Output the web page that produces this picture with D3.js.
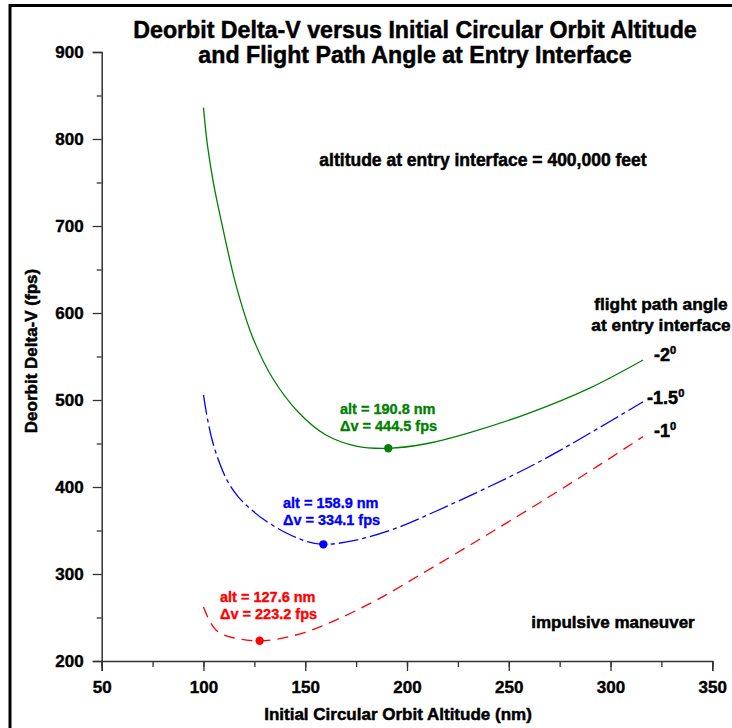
<!DOCTYPE html>
<html><head><meta charset="utf-8">
<script src="https://cdn.jsdelivr.net/npm/d3@7"></script>
<style>
body{margin:0;background:#fff;}
text{font-family:"Liberation Sans",Arial,Helvetica,sans-serif;font-weight:bold;}
</style></head>
<body><svg id="c" width="732" height="728"></svg>
<script>
// ---- data ----
const altGreen = [100,102,105,109,116,124,134,147,160,175,190.8,210,230,260,290,316];
const dvGreen  = [836,792,748,703,632,573,525,485,460,447,444.5,450,462,485,514,546];
const altBlue  = [100,102,104.5,108,112,117,123,130,140,150,158.9,175,195,215,240,265,290,316];
const dvBlue   = [506,478,452,427,406,389,375,362,348,338,334.1,339,353,373,400,429,462,498];
const altRed   = [100,103,106,110,115,121,127.6,137,150,165,185,210,240,270,295,316];
const dvRed    = [262,246,236,230,226.5,224,223.2,225.5,233,247,270,304,346,389,426,458];
const minima = [
  {alt:190.8, dv:444.5, color:"green"},
  {alt:158.9, dv:334.1, color:"blue"},
  {alt:127.6, dv:223.2, color:"red"}
];
const xTicks = [50,100,150,200,250,300,350];
const yTicks = [200,300,400,500,600,700,800,900];
const angleLabels = ["-2","-1.5","-1"];

const svg = d3.select("#c");
const x = d3.scaleLinear().domain([50,350]).range([101.7,712.3]);
const y = d3.scaleLinear().domain([200,900]).range([661,52]);

// outer frame (top and left)
svg.append("line").attr("x1",9).attr("x2",732).attr("y1",5.5).attr("y2",5.5).attr("stroke","#000").attr("stroke-width",3);
svg.append("line").attr("x1",10).attr("x2",10).attr("y1",4).attr("y2",728).attr("stroke","#000").attr("stroke-width",3);

// axes
const axCol = "#333";
const styleLabels = sel => sel.attr("font-size",17).attr("fill","#000")
  .attr("font-family","Liberation Sans").attr("font-weight","bold")
  .attr("stroke","#000").attr("stroke-width",0.4);
const gx = svg.append("g").attr("transform",`translate(0,${y(200)})`);
gx.call(d3.axisBottom(x).tickValues(d3.range(50,351,25)).tickSize(6).tickFormat(""));
gx.selectAll(".tick line").attr("stroke",axCol).attr("stroke-width",1.3);
const gx2 = svg.append("g").attr("transform",`translate(0,${y(200)})`);
gx2.call(d3.axisBottom(x).tickValues(xTicks).tickSize(10).tickPadding(10).tickFormat(d3.format("d")));
gx2.selectAll(".domain").attr("stroke",axCol).attr("stroke-width",1.5);
gx2.selectAll(".tick line").attr("stroke",axCol).attr("stroke-width",1.3);
styleLabels(gx2.selectAll(".tick text"));

const gy = svg.append("g").attr("transform",`translate(${x(50)},0)`);
gy.call(d3.axisLeft(y).tickValues(d3.range(250,900,100)).tickSize(5).tickFormat(""));
gy.selectAll(".domain").remove();
gy.selectAll(".tick line").attr("stroke",axCol).attr("stroke-width",1.3);
const gy2 = svg.append("g").attr("transform",`translate(${x(50)},0)`);
gy2.call(d3.axisLeft(y).tickValues(yTicks).tickSize(9).tickPadding(9).tickFormat(d3.format("d")));
gy2.selectAll(".domain").attr("stroke",axCol).attr("stroke-width",1.5);
gy2.selectAll(".tick line").attr("stroke",axCol).attr("stroke-width",1.3);
styleLabels(gy2.selectAll(".tick text"));

// curves
const line = d3.line().x(d=>x(d[0])).y(d=>y(d[1])).curve(d3.curveCatmullRom.alpha(0.5));
const series = [
  {alt:altGreen, dv:dvGreen, color:"green", dash:null},
  {alt:altBlue, dv:dvBlue, color:"blue", dash:"20,4,4,4"},
  {alt:altRed, dv:dvRed, color:"red", dash:"11,7"}
];
series.forEach(s=>{
  const pts = s.alt.map((a,i)=>[a,s.dv[i]]);
  svg.append("path").attr("d",line(pts)).attr("fill","none").attr("stroke",s.color)
    .attr("stroke-width",1.3).attr("stroke-dasharray",s.dash);
});
minima.forEach(m=>{
  svg.append("circle").attr("cx",x(m.alt)).attr("cy",y(m.dv)).attr("r",4.2).attr("fill",m.color);
});

// minimum annotations
const annos = [
  {m:minima[0], tx:340, ty:414},
  {m:minima[1], tx:283, ty:508},
  {m:minima[2], tx:220, ty:602}
];
annos.forEach(a=>{
  const t = svg.append("text").attr("x",a.tx).attr("y",a.ty).attr("fill",a.m.color)
    .attr("stroke",a.m.color).attr("stroke-width",0.35).attr("font-size",14.5);
  t.append("tspan").attr("x",a.tx).text(`alt = ${a.m.alt.toFixed(1)} nm`);
  t.append("tspan").attr("x",a.tx).attr("dy",17).text(`\u0394v = ${a.m.dv.toFixed(1)} fps`);
});

// titles
const blk = sel => sel.attr("fill","#000").attr("stroke","#000").attr("stroke-width",0.5);
const title = blk(svg.append("text").attr("text-anchor","middle").attr("font-size",23.2));
title.append("tspan").attr("x",415).attr("y",38).text("Deorbit Delta-V versus Initial Circular Orbit Altitude");
title.append("tspan").attr("x",415).attr("y",63).text("and Flight Path Angle at Entry Interface");

blk(svg.append("text").attr("x",398).attr("y",720).attr("text-anchor","middle").attr("font-size",17).text("Initial Circular Orbit Altitude (nm)"));
blk(svg.append("text").attr("transform","translate(37,351) rotate(-90)").attr("text-anchor","middle").attr("font-size",17).text("Deorbit Delta-V (fps)"));

blk(svg.append("text").attr("x",483).attr("y",166).attr("text-anchor","middle").attr("font-size",17.5).text("altitude at entry interface = 400,000 feet"));
blk(svg.append("text").attr("x",613).attr("y",628).attr("text-anchor","middle").attr("font-size",17).text("impulsive maneuver"));
const fpa = blk(svg.append("text").attr("text-anchor","middle").attr("font-size",17.3));
fpa.append("tspan").attr("x",661).attr("y",310).text("flight path angle");
fpa.append("tspan").attr("x",661).attr("y",331).text("at entry interface");

// angle labels at curve ends
const angleY = [361,404,437];
const ends = [[altGreen,dvGreen],[altBlue,dvBlue],[altRed,dvRed]];
angleLabels.forEach((lab,i)=>{
  const xe = x(ends[i][0][ends[i][0].length-1]);
  const t = blk(svg.append("text").attr("x", i===1? xe+4 : xe+11).attr("y",angleY[i]).attr("font-size",18));
  t.append("tspan").text(lab);
  t.append("tspan").attr("font-size",11).attr("dy",-7).text("0");
});
</script></body></html>
